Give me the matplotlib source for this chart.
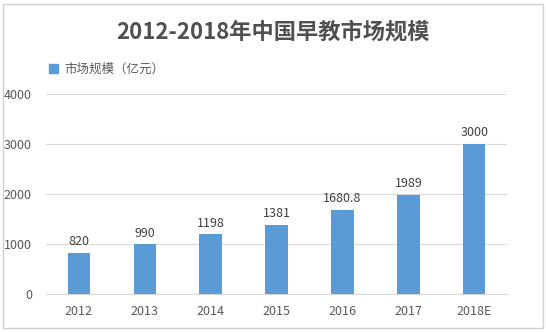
import matplotlib
matplotlib.use('Agg')
import matplotlib.pyplot as plt
from matplotlib.patches import Rectangle, Patch

plt.rcParams['font.family'] = ['Noto Sans CJK SC', 'DejaVu Sans']

years = ['2012', '2013', '2014', '2015', '2016', '2017', '2018E']
market = [820, 990, 1198, 1381, 1680.8, 1989, 3000]
value_labels = ['820', '990', '1198', '1381', '1680.8', '1989', '3000']

bar_color = '#5B9BD5'
text_color = '#595959'

fig = plt.figure(figsize=(5.46, 3.32), dpi=100)
ax = fig.add_axes([0.084, 0.1145, 0.845, 0.6025])

x = range(len(years))
bars = ax.bar(x, market, width=0.34, color=bar_color, zorder=3)
for xi, v, lab in zip(x, market, value_labels):
    ax.text(xi, v + 90, lab, ha='center', va='bottom', fontsize=9, color='#404040')

ax.set_xlim(-0.5, len(years) - 0.5)
ax.set_ylim(0, 4000)
ax.set_yticks([0, 1000, 2000, 3000, 4000])
ax.set_xticks(list(x))
ax.set_xticklabels(years)
ax.tick_params(axis='both', length=0, labelsize=9, labelcolor=text_color)
ax.tick_params(axis='x', pad=8)
ax.tick_params(axis='y', pad=10)
ax.grid(axis='y', color='#D9D9D9', linewidth=0.8, zorder=0)
for s in ['top', 'right', 'left']:
    ax.spines[s].set_visible(False)
ax.spines['bottom'].set_color('#D9D9D9')

fig.text(0.5, 0.905, '2012-2018年中国早教市场规模', ha='center', va='center',
         fontsize=16, fontweight='bold', color='#505050')

fig.legend(handles=[Patch(color=bar_color, label='市场规模（亿元）')],
           loc='center left', bbox_to_anchor=(0.07, 0.79), frameon=False,
           fontsize=9, handlelength=0.7, handleheight=0.7, handletextpad=0.5,
           labelcolor=text_color)

fig.patches.append(Rectangle((0.006, 0.012), 0.988, 0.976, transform=fig.transFigure,
                             fill=False, edgecolor='#D0D0D0', linewidth=1))

fig.savefig('out.png', dpi=100)
